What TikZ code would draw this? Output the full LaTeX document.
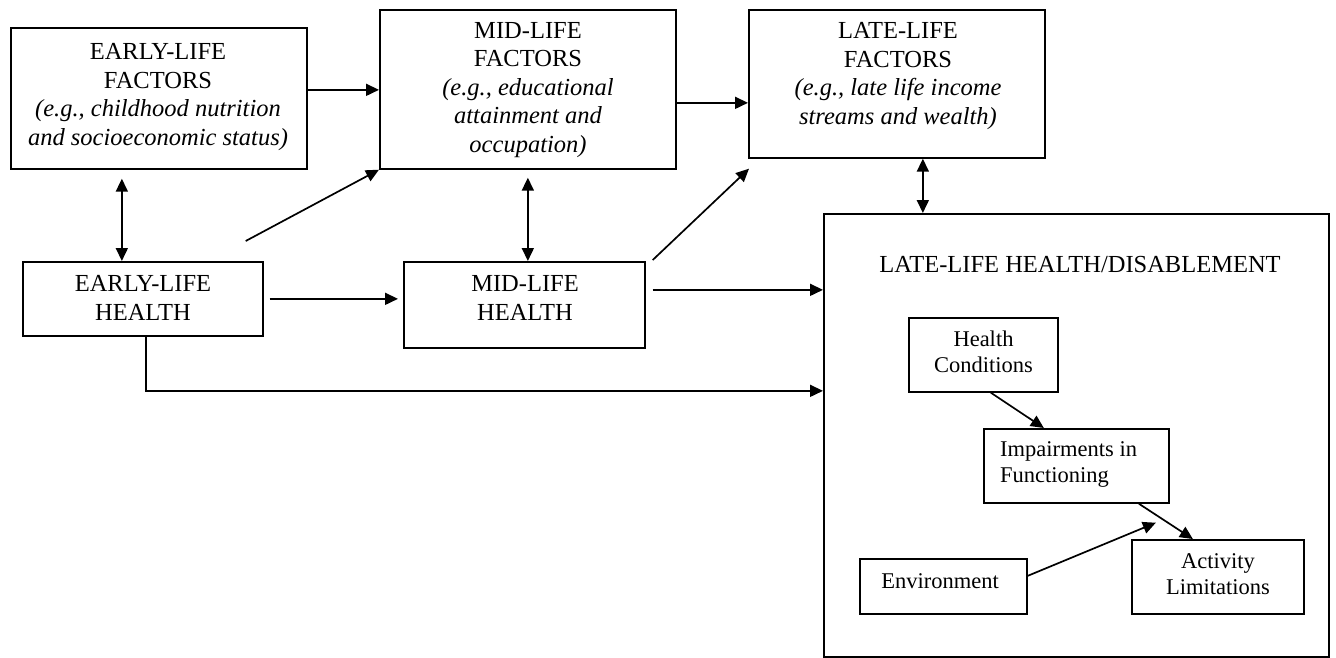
\documentclass[tikz,border=0pt]{standalone}
\usepackage{fontspec}
\setmainfont{Liberation Serif}
\usetikzlibrary{arrows.meta,calc}
\begin{document}
\begin{tikzpicture}[x=1pt,y=-1pt,
  box/.style={draw, line width=1.7pt, anchor=north west, inner sep=0pt},
  bigtxt/.style={font=\fontsize{24.5}{28.5}\selectfont, align=center, inner sep=0pt},
  smalltxt/.style={font=\fontsize{22.5}{26}\selectfont, align=center, inner sep=0pt},
  arr/.style={line width=1.7pt, -{Triangle[length=13pt,width=12pt]}},
  dbl/.style={line width=1.7pt, {Triangle[length=13pt,width=12pt]}-{Triangle[length=13pt,width=12pt]}},
]
\useasboundingbox (0,0) rectangle (1336,658);
% boxes
\node[box, minimum width=296pt, minimum height=141pt] (elf) at (10,27) {};
\node[box, minimum width=296pt, minimum height=159pt] (mlf) at (379,9) {};
\node[box, minimum width=296pt, minimum height=148pt] (llf) at (748,9) {};
\node[box, minimum width=240pt, minimum height=74pt] (elh) at (22,261) {};
\node[box, minimum width=241pt, minimum height=86pt] (mlh) at (403,261) {};
\node[box, minimum width=505pt, minimum height=443pt] (bigb) at (823,213) {};
\node[box, minimum width=149pt, minimum height=74pt] (hc) at (908,317) {};
\node[box, minimum width=185pt, minimum height=74pt] (imp) at (983,428) {};
\node[box, minimum width=172pt, minimum height=74pt] (act) at (1131,539) {};
\node[box, minimum width=167pt, minimum height=55pt] (env) at (859,558) {};
% texts
\node[bigtxt] (elft) at (158,97) {EARLY-LIFE\\FACTORS\\\textit{(e.g., childhood nutrition}\\\textit{and socioeconomic status)}};
\node[bigtxt] (mlft) at (528,90) {MID-LIFE\\FACTORS\\\textit{(e.g., educational}\\\textit{attainment and}\\\textit{occupation)}};
\node[bigtxt] (llft) at (898,76) {LATE-LIFE\\FACTORS\\\textit{(e.g., late life income}\\\textit{streams and wealth)}};
\node[bigtxt] (elht) at (143,298) {EARLY-LIFE\\HEALTH};
\node[bigtxt] (mlht) at (525,298) {MID-LIFE\\HEALTH};
\node[bigtxt] (title) at (1080,265) {LATE-LIFE HEALTH/DISABLEMENT};
\node[smalltxt] (hct) at (983.5,351.5) {Health\\Conditions};
\node[smalltxt, align=left, anchor=west] (impt) at (1000,464) {Impairments in\\Functioning};
\node[smalltxt] (actt) at (1218,574) {Activity\\Limitations};
\node[smalltxt] (envt) at (940,581) {Environment};
% connectors
\coordinate (a1) at ([yshift=8.5pt]elf.east);
\draw[arr] (a1) -- (a1 -| mlf.west);
\coordinate (a2) at ([yshift=-13.5pt]mlf.east);
\draw[arr] (a2) -- (a2 -| llf.west);
\coordinate (a3) at ([xshift=-21pt]elh.north);
\draw[dbl, shorten <=9pt] (a3 |- elf.south) -- (a3);
\coordinate (a4) at ([xshift=3.5pt]mlh.north);
\draw[dbl, shorten <=8pt] (a4 |- mlf.south) -- (a4);
\coordinate (a5) at ([xshift=26pt]llf.south);
\draw[dbl] (a5) -- (a5 |- bigb.north);
\coordinate (a6) at ([shift={(-18,-20)}]elh.north east);
\draw[arr] (a6) -- (mlf.south west);
\coordinate (a7s) at ([shift={(7,-1)}]mlh.north east);
\coordinate (a7e) at ([shift={(1,10)}]llf.south west);
\draw[arr] (a7s) -- (a7e);
\draw[arr, shorten <=6pt, shorten >=5pt] (elh.east) -- (elh.east -| mlh.west);
\coordinate (a9) at ([yshift=15pt]mlh.east);
\draw[arr, shorten <=7pt] (a9) -- (a9 -| bigb.west);
\coordinate (a10) at ([xshift=3pt]elh.south);
\coordinate (a10e) at ([yshift=44.5pt]bigb.west);
\draw[arr] (a10) |- (a10e);
\draw[arr] ([xshift=7.5pt]hc.south) -- ([xshift=-32.5pt]imp.north);
\draw[arr] ([xshift=62.5pt]imp.south) -- ([xshift=-25pt]act.north);
\coordinate (a13e) at ([shift={(79.5,19)}]imp.south);
\draw[arr] ([yshift=10.5pt]env.east) -- (a13e);
\end{tikzpicture}
\end{document}
